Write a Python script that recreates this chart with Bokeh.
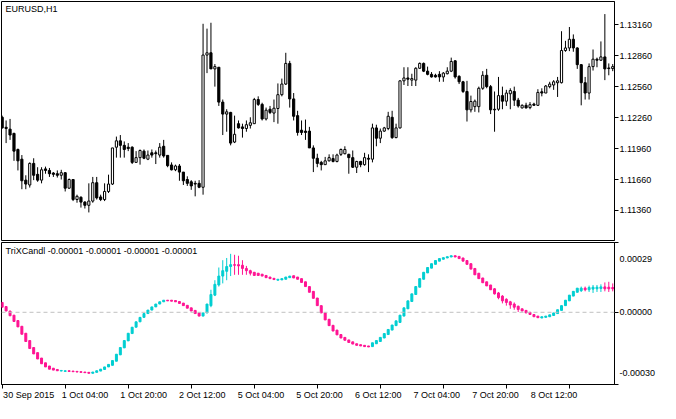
import numpy as np
from bokeh.plotting import figure
from bokeh.layouts import column
from bokeh.models import Range1d, Label, Span, FixedTicker, NumeralTickFormatter
from bokeh.core.properties import value
from bokeh.embed import file_html
from bokeh.resources import INLINE

FONT = "Liberation Sans"
FS = "9px"

# ---------------- data: EURUSD H1 (bar index 0 = 30 Sep 2015 12:00) ----------------
price_open = [
    1.12263, 1.12166, 1.12148, 1.12107, 1.11951, 1.11857, 1.11654, 1.11607, 1.11816, 1.11710,
    1.11654, 1.11763, 1.11748, 1.11723, 1.11716, 1.11701, 1.11726, 1.11576, 1.11660, 1.11466,
    1.11488, 1.11441, 1.11410, 1.11451, 1.11629, 1.11491, 1.11466, 1.11544, 1.11616, 1.11973,
    1.12035, 1.11991, 1.11973, 1.11973, 1.11826, 1.11872, 1.11935, 1.11857, 1.11919, 1.11919,
    1.11897, 1.11982, 1.11894, 1.11801, 1.11754, 1.11791, 1.11732, 1.11660, 1.11638, 1.11623,
    1.11623, 1.11585, 1.12866, 1.12888, 1.12732, 1.12748, 1.12410, 1.12294, 1.12310, 1.12023,
    1.12201, 1.12170, 1.12154, 1.12185, 1.12201, 1.12435, 1.12388, 1.12247, 1.12341, 1.12304,
    1.12348, 1.12482, 1.12585, 1.12785, 1.12441, 1.12279, 1.12138, 1.12129, 1.12129, 1.11966,
    1.11866, 1.11826, 1.11804, 1.11841, 1.11863, 1.11835, 1.11904, 1.11910, 1.11904, 1.11872,
    1.11779, 1.11835, 1.11804, 1.11866, 1.11857, 1.12160, 1.12060, 1.12129, 1.12154, 1.12263,
    1.12066, 1.12160, 1.12616, 1.12644, 1.12623, 1.12623, 1.12738, 1.12785, 1.12710, 1.12679,
    1.12670, 1.12679, 1.12654, 1.12685, 1.12710, 1.12810, 1.12660, 1.12607, 1.12513, 1.12335,
    1.12366, 1.12366, 1.12544, 1.12670, 1.12560, 1.12341, 1.12341, 1.12473, 1.12419, 1.12491,
    1.12513, 1.12429, 1.12354, 1.12379, 1.12357, 1.12391, 1.12379, 1.12510, 1.12498, 1.12560,
    1.12576, 1.12598, 1.12598, 1.12910, 1.12935, 1.13019, 1.12935, 1.12773, 1.12598, 1.12498,
    1.12754, 1.12826, 1.12816, 1.12848, 1.12741, 1.12735,
]
price_high = [
    1.12279, 1.12232, 1.12247, 1.12113, 1.11960, 1.11897, 1.11701, 1.11826, 1.11866, 1.11779,
    1.11779, 1.11785, 1.11772, 1.11732, 1.11748, 1.11754, 1.11732, 1.11670, 1.11660, 1.11513,
    1.11497, 1.11451, 1.11623, 1.11685, 1.11685, 1.11513, 1.11623, 1.11707, 1.11966, 1.12076,
    1.12091, 1.12029, 1.12013, 1.11982, 1.11935, 1.11951, 1.11951, 1.11941, 1.11951, 1.11941,
    1.12013, 1.12044, 1.11894, 1.11826, 1.11804, 1.11810, 1.11732, 1.11691, 1.11654, 1.11648,
    1.11654, 1.13169, 1.13122, 1.13179, 1.12779, 1.12748, 1.12435, 1.12341, 1.12316, 1.12279,
    1.12232, 1.12201, 1.12232, 1.12263, 1.12451, 1.12466, 1.12404, 1.12357, 1.12373, 1.12435,
    1.12591, 1.12638, 1.12888, 1.12810, 1.12498, 1.12326, 1.12232, 1.12241, 1.12170, 1.11991,
    1.11910, 1.11841, 1.11879, 1.11904, 1.11904, 1.11910, 1.11960, 1.11982, 1.11910, 1.11941,
    1.11841, 1.11841, 1.11919, 1.11904, 1.12201, 1.12191, 1.12154, 1.12170, 1.12316, 1.12326,
    1.12201, 1.12623, 1.12748, 1.12748, 1.12685, 1.12748, 1.12794, 1.12794, 1.12754, 1.12701,
    1.12685, 1.12710, 1.12701, 1.12748, 1.12841, 1.12816, 1.12670, 1.12616, 1.12616, 1.12473,
    1.12435, 1.12560, 1.12710, 1.12732, 1.12576, 1.12513, 1.12654, 1.12560, 1.12529, 1.12544,
    1.12560, 1.12451, 1.12388, 1.12404, 1.12410, 1.12404, 1.12535, 1.12544, 1.12576, 1.12607,
    1.12623, 1.12654, 1.13097, 1.13004, 1.13138, 1.13066, 1.12941, 1.12779, 1.12654, 1.12785,
    1.12920, 1.12841, 1.12998, 1.13263, 1.12785, 1.12779,
]
price_low = [
    1.12154, 1.12013, 1.12044, 1.11841, 1.11748, 1.11566, 1.11566, 1.11582, 1.11654, 1.11638,
    1.11623, 1.11716, 1.11685, 1.11685, 1.11679, 1.11660, 1.11544, 1.11569, 1.11451, 1.11435,
    1.11388, 1.11379, 1.11341, 1.11435, 1.11466, 1.11451, 1.11451, 1.11529, 1.11607, 1.11872,
    1.11872, 1.11872, 1.11935, 1.11810, 1.11826, 1.11804, 1.11857, 1.11848, 1.11872, 1.11810,
    1.11872, 1.11872, 1.11779, 1.11748, 1.11741, 1.11648, 1.11607, 1.11598, 1.11560, 1.11497,
    1.11576, 1.11513, 1.12691, 1.12732, 1.12560, 1.12373, 1.12091, 1.12123, 1.11991, 1.12013,
    1.12154, 1.12066, 1.12123, 1.12154, 1.12201, 1.12373, 1.12232, 1.12232, 1.12294, 1.12216,
    1.12201, 1.12466, 1.12576, 1.12357, 1.12232, 1.12085, 1.12091, 1.12044, 1.11966, 1.11732,
    1.11779, 1.11748, 1.11804, 1.11835, 1.11826, 1.11826, 1.11888, 1.11904, 1.11716, 1.11772,
    1.11723, 1.11779, 1.11794, 1.11732, 1.11826, 1.11982, 1.12013, 1.12123, 1.12138, 1.12054,
    1.12060, 1.12154, 1.12576, 1.12566, 1.12566, 1.12566, 1.12732, 1.12701, 1.12670, 1.12648,
    1.12648, 1.12607, 1.12607, 1.12679, 1.12701, 1.12638, 1.12585, 1.12498, 1.12222, 1.12310,
    1.12316, 1.12310, 1.12529, 1.12544, 1.12294, 1.12123, 1.12326, 1.12341, 1.12373, 1.12341,
    1.12373, 1.12357, 1.12348, 1.12348, 1.12341, 1.12373, 1.12373, 1.12466, 1.12498, 1.12544,
    1.12529, 1.12460, 1.12591, 1.12898, 1.12904, 1.12898, 1.12732, 1.12379, 1.12435, 1.12435,
    1.12716, 1.12748, 1.12810, 1.12623, 1.12670, 1.12710,
]
price_close = [
    1.12160, 1.12154, 1.12091, 1.11935, 1.11841, 1.11648, 1.11616, 1.11816, 1.11701, 1.11654,
    1.11754, 1.11748, 1.11716, 1.11710, 1.11701, 1.11726, 1.11576, 1.11660, 1.11466, 1.11497,
    1.11441, 1.11410, 1.11451, 1.11629, 1.11482, 1.11466, 1.11544, 1.11616, 1.11966, 1.12035,
    1.11991, 1.11951, 1.11960, 1.11826, 1.11872, 1.11941, 1.11866, 1.11897, 1.11897, 1.11910,
    1.11973, 1.11888, 1.11794, 1.11754, 1.11791, 1.11732, 1.11648, 1.11623, 1.11598, 1.11616,
    1.11585, 1.12866, 1.12888, 1.12732, 1.12754, 1.12410, 1.12294, 1.12316, 1.12013, 1.12098,
    1.12160, 1.12154, 1.12191, 1.12210, 1.12435, 1.12388, 1.12247, 1.12332, 1.12310, 1.12351,
    1.12482, 1.12585, 1.12785, 1.12441, 1.12273, 1.12116, 1.12116, 1.12116, 1.11966, 1.11866,
    1.11816, 1.11804, 1.11841, 1.11872, 1.11835, 1.11897, 1.11951, 1.11951, 1.11872, 1.11779,
    1.11835, 1.11804, 1.11872, 1.11857, 1.12160, 1.12060, 1.12129, 1.12160, 1.12273, 1.12066,
    1.12160, 1.12616, 1.12644, 1.12632, 1.12638, 1.12738, 1.12785, 1.12710, 1.12679, 1.12654,
    1.12654, 1.12654, 1.12691, 1.12710, 1.12804, 1.12654, 1.12607, 1.12513, 1.12335, 1.12416,
    1.12419, 1.12544, 1.12670, 1.12560, 1.12335, 1.12335, 1.12473, 1.12419, 1.12498, 1.12522,
    1.12429, 1.12373, 1.12379, 1.12354, 1.12385, 1.12379, 1.12504, 1.12498, 1.12566, 1.12585,
    1.12607, 1.12616, 1.12910, 1.12935, 1.13019, 1.12935, 1.12773, 1.12598, 1.12498, 1.12754,
    1.12826, 1.12816, 1.12848, 1.12732, 1.12735, 1.12754,
]

# TriXCandl indicator values, in units of 1e-5
trix_open = [
    4.09, 2.38, 0.53, -1.19, -3.43, -5.81, -8.71, -11.75, -14.65, -16.76,
    -19.01, -20.99, -22.31, -23.23, -23.76, -24.42, -24.55, -24.29, -24.42, -24.55,
    -24.68, -24.82, -24.95, -25.34, -24.95, -24.42, -23.76, -22.70, -22.04, -20.33,
    -17.69, -14.78, -11.88, -8.84, -6.20, -3.96, -2.11, -0.53, 0.92, 2.24,
    3.43, 4.36, 5.02, 5.02, 4.88, 4.49, 3.83, 2.90, 1.85, 0.79,
    -0.26, -1.58, -0.26, 2.77, 7.13, 11.35, 15.05, 17.03, 19.01, 19.80,
    19.80, 19.54, 18.22, 17.29, 16.63, 16.24, 15.84, 15.31, 14.65, 14.12,
    13.33, 13.46, 13.73, 14.39, 15.18, 14.65, 13.99, 12.67, 10.69, 8.71,
    5.94, 2.77, -0.26, -2.90, -5.41, -7.39, -9.24, -10.43, -11.48, -12.28,
    -13.07, -13.46, -13.73, -13.99, -14.26, -13.07, -12.14, -10.69, -9.24, -7.39,
    -5.54, -4.22, -1.58, 1.45, 4.49, 7.39, 10.43, 13.73, 16.37, 18.35,
    19.93, 21.25, 22.04, 22.57, 22.97, 23.50, 23.23, 22.57, 21.52, 20.20,
    18.22, 16.24, 14.26, 12.67, 11.35, 9.77, 8.05, 6.73, 5.41, 4.36,
    3.43, 2.51, 1.45, 0.79, 0.00, -0.92, -1.58, -2.38, -2.11, -1.85,
    -1.32, -0.53, 0.79, 2.77, 4.75, 6.73, 8.32, 8.98, 10.03, 9.37,
    9.64, 9.77, 9.90, 10.56, 10.43, 10.30,
]
trix_close = [
    2.11, 0.53, -1.45, -3.83, -6.07, -9.11, -12.14, -15.05, -17.29, -19.40,
    -21.38, -22.70, -23.63, -24.02, -24.29, -24.16, -24.29, -24.55, -24.68, -24.82,
    -24.95, -25.08, -25.34, -24.82, -24.29, -23.63, -22.70, -21.65, -20.06, -17.42,
    -14.65, -11.75, -8.71, -6.20, -3.96, -2.11, -0.53, 0.92, 2.24, 3.43,
    4.36, 5.02, 4.75, 4.62, 4.36, 3.70, 2.77, 1.72, 0.53, -0.53,
    -1.58, -0.26, 3.43, 7.39, 11.62, 15.05, 17.29, 19.01, 19.80, 19.54,
    19.27, 18.22, 17.29, 16.24, 15.31, 15.31, 15.05, 14.39, 13.99, 13.60,
    13.73, 13.99, 14.65, 15.05, 14.26, 13.73, 12.41, 10.69, 8.32, 5.81,
    2.77, -0.26, -3.17, -5.54, -7.79, -9.37, -10.69, -11.62, -12.54, -13.20,
    -13.73, -13.99, -14.26, -14.39, -12.67, -11.75, -10.43, -8.84, -7.13, -5.28,
    -3.56, -1.19, 1.85, 4.75, 7.66, 10.69, 13.99, 16.63, 18.61, 20.20,
    21.52, 22.31, 22.70, 23.10, 23.50, 22.97, 22.31, 21.25, 19.93, 17.95,
    15.58, 13.99, 12.28, 10.96, 9.37, 7.66, 6.07, 4.75, 4.09, 3.04,
    2.11, 1.19, 0.53, -0.26, -0.92, -1.85, -2.24, -1.85, -1.58, -1.06,
    -0.26, 1.06, 2.77, 5.02, 7.13, 8.71, 10.03, 10.03, 9.37, 10.30,
    10.43, 10.43, 10.56, 9.77, 9.77, 9.77,
]
# bars whose high/low extend beyond the body: index -> (high, low), 1e-5 units
trix_wicks = {
    53: (9.37, 2.11), 54: (13.33, 6.73), 55: (18.61, 10.69), 56: (21.65, 12.01),
    57: (22.57, 13.33), 58: (24.29, 15.05), 59: (23.89, 15.58), 60: (23.50, 15.58),
    61: (21.65, 15.58), 62: (19.27, 15.58), 63: (17.69, 15.31),
    125: (10.03, 7.39), 126: (8.45, 5.41), 127: (7.13, 3.70), 128: (5.81, 2.77),
    129: (4.75, 1.45), 130: (4.09, 1.06), 131: (2.77, 0.13),
    147: (10.69, 8.45), 148: (10.69, 8.71), 149: (11.09, 8.45), 150: (11.35, 8.05),
    151: (11.35, 8.45), 152: (11.62, 8.45), 153: (12.41, 8.71), 154: (12.67, 8.45),
    155: (12.01, 8.71),
}

price_ticks = [1.11360, 1.11660, 1.11960, 1.12260, 1.12560, 1.12860, 1.13160]
trix_ticks = [-0.00030, 0.0, 0.00029]
time_tick_index = [0, 16, 32, 48, 64, 80, 96, 112, 128, 144]
time_tick_labels = ["30 Sep 2015", "1 Oct 04:00", "1 Oct 20:00", "2 Oct 12:00", "5 Oct 04:00",
                    "5 Oct 20:00", "6 Oct 12:00", "7 Oct 04:00", "7 Oct 20:00", "8 Oct 12:00"]
price_min, price_max = 1.11069, 1.13385
trix_min, trix_max = -0.00030, 0.00029

# ---------------- derived ----------------
n = len(price_close)
xs = np.arange(n)
po = np.array(price_open); pc = np.array(price_close)
ph = np.array(price_high); pl = np.array(price_low)
scale = 1e-5
to = np.array(trix_open) * scale
tc = np.array(trix_close) * scale
th = np.maximum(to, tc).copy()
tl = np.minimum(to, tc).copy()
for k, (hh, ll) in trix_wicks.items():
    th[k] = hh * scale
    tl[k] = ll * scale

CYAN = "#00CED1"
PINK = "#FF1493"

W = 660
BL, BR = 1, 46
FRAME_W = W - BL - BR
xr = Range1d(-0.17, 155.45)


def style(p):
    p.grid.visible = False
    p.outline_line_color = "black"
    p.outline_line_alpha = 1.0
    p.outline_line_width = 1
    p.background_fill_color = "white"
    p.border_fill_color = "white"
    for ax in p.axis:
        ax.axis_line_color = "black"
        ax.major_tick_line_color = "black"
        ax.minor_tick_line_color = None
        ax.major_tick_in = 0
        ax.major_tick_out = 4
        ax.major_label_standoff = 1
        ax.major_label_text_font = FONT
        ax.major_label_text_font_size = FS
        ax.major_label_text_color = "black"


# ---------------- price panel ----------------
p1 = figure(width=W, height=241, x_range=xr, y_range=Range1d(price_min, price_max),
            output_backend="svg", toolbar_location=None,
            x_axis_location=None, y_axis_location="right",
            min_border_left=BL, min_border_right=BR, min_border_top=1, min_border_bottom=1)
style(p1)
p1.yaxis[0].ticker = FixedTicker(ticks=price_ticks)
p1.yaxis[0].formatter = NumeralTickFormatter(format="0.00000")

body_fill = ["white" if c >= o else "black" for o, c in zip(po, pc)]
p1.segment(xs, pl, xs, ph, line_color="black", line_width=1)
p1.vbar(x=xs, width=0.55, top=np.maximum(po, pc), bottom=np.minimum(po, pc),
        fill_color=body_fill, line_color="black", line_width=1)
p1.add_layout(Label(x=4, x_units="screen", y=price_max, y_units="data", y_offset=-2,
                    text="EURUSD,H1", text_baseline="top", text_align="left",
                    text_font=FONT, text_font_size=FS, text_color="black"))

# ---------------- indicator panel ----------------
p2 = figure(width=W, height=148, x_range=xr, y_range=Range1d(trix_min, trix_max),
            output_backend="svg", toolbar_location=None,
            x_axis_location="below", y_axis_location="right",
            min_border_left=BL, min_border_right=BR, min_border_top=1, min_border_bottom=5)
style(p2)
p2.yaxis[0].ticker = FixedTicker(ticks=trix_ticks)
p2.yaxis[0].formatter = NumeralTickFormatter(format="0.00000")
p2.yaxis[0].major_label_overrides = {0.00029: "\n0.00029", -0.0003: "-0.00030\n"}
p2.xaxis[0].ticker = FixedTicker(ticks=time_tick_index)
p2.xaxis[0].major_label_overrides = {t: "" for t in time_tick_index}
p2.xaxis[0].major_label_text_font_size = "0px"
p2.xaxis[0].major_label_standoff = 0

p2.add_layout(Span(location=0, dimension="width", line_color="#C0C0C0",
                   line_dash="4 3", line_width=1))

tcol = [CYAN if c > o else PINK for o, c in zip(to, tc)]
p2.segment(xs, tl, xs, th, line_color=tcol, line_width=1)
p2.vbar(x=xs, width=0.5, top=np.maximum(to, tc), bottom=np.minimum(to, tc),
        fill_color=tcol, line_color=tcol, line_width=1)

p2.add_layout(Label(x=4, x_units="screen", y=trix_max, y_units="data", y_offset=-3,
                    text="TriXCandl -0.00001 -0.00001 -0.00001 -0.00001",
                    text_baseline="top", text_align="left",
                    text_font=FONT, text_font_size=FS, text_color="black"))

# ---------------- time labels strip (same bar scale, wider frame) ----------------
p3_frame_w = W - BL
x3 = Range1d(xr.start, xr.start + (xr.end - xr.start) * p3_frame_w / FRAME_W)
p3 = figure(width=W, height=13, x_range=x3, y_range=Range1d(0, 1),
            output_backend="svg", toolbar_location=None,
            x_axis_location=None, y_axis_location=None,
            min_border_left=BL, min_border_right=0, min_border_top=0, min_border_bottom=0)
p3.grid.visible = False
p3.outline_line_color = None
p3.background_fill_color = "white"
p3.border_fill_color = "white"
p3.text(x=time_tick_index, y=[1] * len(time_tick_index), text=time_tick_labels,
        x_offset=1, y_offset=0, text_baseline="top", text_align="left",
        text_font=value(FONT), text_font_size=value(FS), text_color="black")

layout = column(p1, p2, p3, spacing=0)
open("out.html", "w").write(file_html(layout, INLINE))
